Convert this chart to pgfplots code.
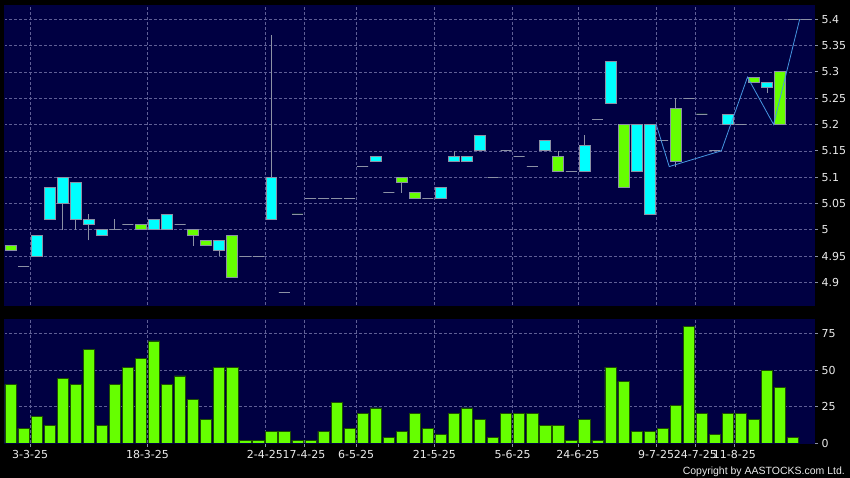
\documentclass[border=0pt]{standalone}
\usepackage{pgfplots}
\pgfplotsset{compat=1.18}
\usepackage{pgfplotstable}
\usepackage{fontspec}
\setmainfont{DejaVu Sans}
\newfontfamily\copyfont{Liberation Sans}

\definecolor{panel}{RGB}{0,0,66}
\definecolor{gridc}{RGB}{95,95,150}
\definecolor{upcol}{RGB}{0,255,255}
\definecolor{downcol}{RGB}{102,255,0}
\definecolor{edgec}{RGB}{140,145,165}
\definecolor{volgreen}{RGB}{102,255,0}
\definecolor{voledge}{RGB}{30,80,0}
\definecolor{linec}{RGB}{70,150,225}
\definecolor{labc}{RGB}{235,235,235}

% x = trading day, o h l c = price, v = volume
\pgfplotstableread{
x  o    h    l    c    v
0  4.97 4.97 4.96 4.96 40
1  4.93 4.93 4.93 4.93 10
2  4.95 4.99 4.95 4.99 18
3  5.02 5.08 5.02 5.08 12
4  5.05 5.10 5.00 5.10 44
5  5.02 5.09 5.00 5.09 40
6  5.01 5.03 4.98 5.02 64
7  4.99 5.00 4.99 5.00 12
8  5.00 5.02 5.00 5.00 40
9  5.01 5.01 5.01 5.01 52
10 5.01 5.01 5.00 5.00 58
11 5.00 5.02 5.00 5.02 70
12 5.00 5.03 5.00 5.03 40
13 5.01 5.01 5.01 5.01 46
14 5.00 5.00 4.97 4.99 30
15 4.98 4.98 4.97 4.97 16
16 4.96 4.98 4.95 4.98 52
17 4.99 4.99 4.91 4.91 52
18 4.95 4.95 4.95 4.95 2
19 4.95 4.95 4.95 4.95 2
20 5.02 5.37 5.02 5.10 8
21 4.88 4.88 4.88 4.88 8
22 5.03 5.03 5.03 5.03 2
23 5.06 5.06 5.06 5.06 2
24 5.06 5.06 5.06 5.06 8
25 5.06 5.06 5.06 5.06 28
26 5.06 5.06 5.06 5.06 10
27 5.12 5.12 5.12 5.12 20
28 5.13 5.14 5.13 5.14 24
29 5.07 5.07 5.07 5.07 4
30 5.10 5.10 5.07 5.09 8
31 5.07 5.07 5.06 5.06 20
32 5.06 5.06 5.06 5.06 10
33 5.06 5.08 5.06 5.08 6
34 5.13 5.15 5.13 5.14 20
35 5.13 5.14 5.13 5.14 24
36 5.15 5.18 5.15 5.18 16
37 5.10 5.10 5.10 5.10 4
38 5.15 5.15 5.15 5.15 20
39 5.14 5.14 5.14 5.14 20
40 5.12 5.12 5.12 5.12 20
41 5.15 5.17 5.15 5.17 12
42 5.14 5.15 5.11 5.11 12
43 5.11 5.11 5.11 5.11 2
44 5.11 5.18 5.11 5.16 16
45 5.21 5.21 5.21 5.21 2
46 5.24 5.32 5.24 5.32 52
47 5.20 5.20 5.08 5.08 42
48 5.11 5.20 5.11 5.20 8
49 5.03 5.20 5.03 5.20 8
50 5.17 5.17 5.17 5.17 10
51 5.23 5.25 5.12 5.13 26
52 5.25 5.25 5.25 5.25 80
53 5.22 5.22 5.22 5.22 20
54 5.15 5.15 5.15 5.15 6
55 5.20 5.22 5.20 5.22 20
56 5.20 5.20 5.20 5.20 20
57 5.29 5.29 5.28 5.28 16
58 5.27 5.28 5.26 5.28 50
59 5.30 5.30 5.20 5.20 38
60 5.40 5.40 5.40 5.40 4
61 5.40 5.40 5.40 5.40 nan
}\candles

\pgfplotsset{
  panel/.style={
    scale only axis, width=810pt,
    xmin=-0.5, xmax=61.6,
    axis background/.style={fill=panel},
    axis line style={panel},
    grid=major,
    major grid style={gridc, dash pattern=on 2.5pt off 2.5pt, line width=0.5pt},
    tick align=outside, major tick length=4pt,
    tick style={edgec, line width=0.7pt},
    ytick pos=right, yticklabel pos=right,
    ticklabel style={font=\fontsize{11}{13}\selectfont, text=labc},
    /pgf/number format/assume math mode=true,
    xtick={1.5,10.5,19.5,22.5,26.5,32.5,38.5,43.5,49.5,52.5,55.5},
  }
}

\begin{document}
\begin{tikzpicture}
\useasboundingbox (0,0) rectangle (850pt,478pt);
\fill[black] (0,0) rectangle (850pt,478pt);

% price panel
\begin{axis}[panel,
  at={(4pt,173pt)}, anchor=south west, height=300pt,
  ymin=4.857, ymax=5.427,
  ytick={4.9,4.95,5,5.05,5.1,5.15,5.2,5.25,5.3,5.35,5.4},
  scaled y ticks=false,
  yticklabel style={/pgf/number format/fixed, /pgf/number format/precision=2},
  xticklabels={}, xtick style={draw=none},
]
\pgfplotstablegetrowsof{\candles}
\pgfmathtruncatemacro\lastrow{\pgfplotsretval-1}
\foreach \k in {0,...,\lastrow}{
  \pgfplotstablegetelem{\k}{x}\of{\candles}\let\cx\pgfplotsretval
  \pgfplotstablegetelem{\k}{o}\of{\candles}\let\co\pgfplotsretval
  \pgfplotstablegetelem{\k}{h}\of{\candles}\let\ch\pgfplotsretval
  \pgfplotstablegetelem{\k}{l}\of{\candles}\let\cl\pgfplotsretval
  \pgfplotstablegetelem{\k}{c}\of{\candles}\let\cc\pgfplotsretval
  \pgfmathsetmacro\cbot{min(\co,\cc)}
  \pgfmathsetmacro\ctop{max(\co,\cc)}
  \pgfmathsetmacro\xl{\cx-0.42}
  \pgfmathsetmacro\xr{\cx+0.42}
  \pgfmathtruncatemacro\cdir{(\cc>\co) ? 1 : 0}
  \ifnum\cdir=1 \def\cfill{upcol}\else\def\cfill{downcol}\fi
  \edef\tmp{%
    \noexpand\addplot[edgec, line width=0.8pt] coordinates {(\cx,\cl) (\cx,\ch)};
    \noexpand\addplot[draw=edgec, line width=0.8pt, fill=\cfill]
      coordinates {(\xl,\cbot) (\xr,\cbot) (\xr,\ctop) (\xl,\ctop)} -- cycle;}
  \tmp
}
\addplot[linec, line width=0.8pt] coordinates {
  (49.5,5.20) (50.5,5.12) (54.5,5.15) (56.5,5.29) (58.5,5.20) (60.5,5.40)};
\end{axis}

% volume panel
\begin{axis}[panel,
  at={(4pt,35pt)}, anchor=south west, height=124pt,
  ymin=0, ymax=85, ytick={0,25,50,75},
  xtick pos=left,
  xticklabels={3-3-25,18-3-25,2-4-25,17-4-25,6-5-25,21-5-25,5-6-25,24-6-25,9-7-25,24-7-25,11-8-25},
]
\addplot[ybar, bar width=0.86, bar shift=0pt, fill=volgreen, draw=voledge, line width=0.7pt]
  table[x=x, y=v] {\candles};
\end{axis}

\node[anchor=base east, inner sep=0pt, text=labc, font=\copyfont\fontsize{10.5}{12}\selectfont]
  at (845pt,3.5pt) {Copyright by AASTOCKS.com Ltd.};
\end{tikzpicture}
\end{document}
